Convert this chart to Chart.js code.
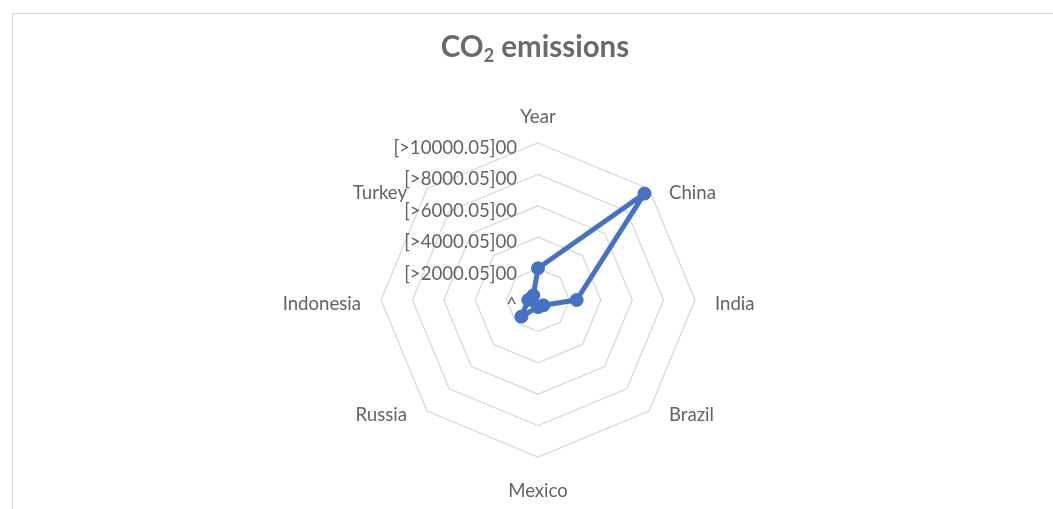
<!DOCTYPE html>
<html><head><meta charset="utf-8">
<script src="https://cdn.jsdelivr.net/npm/chart.js@4"></script>
<style>html,body{margin:0;padding:0;background:#fff}#wrap{width:1053px;height:509px;position:relative}</style>
</head><body><div id="wrap"><canvas id="c"></canvas></div>
<script>
const categories = ['Year', 'China', 'India', 'Brazil', 'Mexico', 'Russia', 'Indonesia', 'Turkey'];
const co2Values = [2019, 9590, 2460, 480, 450, 1490, 620, 420];
const tickValues = [0, 2000, 4000, 6000, 8000, 10000];
const tickLabels = ['^', '[>2000.05]00', '[>4000.05]00', '[>6000.05]00', '[>8000.05]00', '[>10000.05]00'];
const titleMain = 'CO';
const titleSub = '2';
const titleRest = ' emissions';

const textColor = '#636363';
const titleColor = '#6a6a6a';
const lineColor = '#4472C4';

const decor = {
  id: 'decor',
  beforeDraw(chart) {
    const ctx = chart.ctx;
    ctx.save();
    ctx.fillStyle = '#fff';
    ctx.fillRect(0, 0, chart.width, chart.height);
    ctx.strokeStyle = '#d9d9d9';
    ctx.lineWidth = 1;
    ctx.beginPath();
    ctx.moveTo(12.5, chart.height);
    ctx.lineTo(12.5, 13.5);
    ctx.lineTo(chart.width, 13.5);
    ctx.stroke();
    ctx.restore();
  },
  afterDraw(chart) {
    const ctx = chart.ctx;
    const s = chart.scales.r;
    ctx.save();
    ctx.fillStyle = textColor;
    ctx.font = '18.6px Lato';
    ctx.textBaseline = 'middle';
    ctx.textAlign = 'right';
    tickValues.forEach((v, i) => {
      const d = s.getDistanceFromCenterForValue(v);
      ctx.fillText(tickLabels[i], s.xCenter - 21, s.yCenter - d + 5);
    });
    categories.forEach((c, i) => {
      const p = s.getPointPosition(i, s.drawingArea);
      const dx = p.x - s.xCenter, dy = p.y - s.yCenter;
      let x = p.x, y = p.y + 4;
      if (dx > 1) { ctx.textAlign = 'left'; x += 20; }
      else if (dx < -1) { ctx.textAlign = 'right'; x -= 20; }
      else { ctx.textAlign = 'center'; y = dy < 0 ? p.y - 26 : p.y + 34; }
      ctx.fillText(c, x, y);
    });
    // title
    ctx.fillStyle = titleColor;
    ctx.font = 'bold 29.5px Lato';
    ctx.textAlign = 'left';
    ctx.textBaseline = 'alphabetic';
    const wMain = ctx.measureText(titleMain).width;
    const wRest = ctx.measureText(titleRest).width;
    ctx.font = 'bold 18px Lato';
    const wSub = ctx.measureText(titleSub).width;
    const total = wMain + wSub + wRest;
    let tx = s.xCenter - total / 2 - 3;
    const by = 57;
    ctx.font = 'bold 29.5px Lato';
    ctx.fillText(titleMain, tx, by);
    tx += wMain;
    ctx.font = 'bold 18px Lato';
    ctx.fillText(titleSub, tx, by + 5);
    tx += wSub;
    ctx.font = 'bold 29.5px Lato';
    ctx.fillText(titleRest, tx, by);
    ctx.restore();
  }
};

new Chart(document.getElementById('c'), {
  type: 'radar',
  data: {
    labels: categories,
    datasets: [{
      label: 'CO2 emissions',
      data: co2Values,
      borderColor: lineColor,
      backgroundColor: lineColor,
      borderWidth: 5,
      borderJoinStyle: 'round',
      borderCapStyle: 'round',
      pointRadius: 6.5,
      pointBorderWidth: 1,
      pointBackgroundColor: lineColor,
      pointBorderColor: lineColor,
      fill: false,
      tension: 0
    }]
  },
  options: {
    responsive: true,
    maintainAspectRatio: false,
    animation: false,
    layout: { padding: { top: 143, bottom: 52, left: 23, right: 0 } },
    plugins: { legend: { display: false }, title: { display: false }, tooltip: { enabled: false } },
    scales: {
      r: {
        min: 0, max: 10000,
        ticks: { stepSize: 2000, display: false },
        grid: { color: '#d9d9d9', lineWidth: 1.3, circular: false },
        angleLines: { display: false },
        pointLabels: { display: false }
      }
    }
  },
  plugins: [decor]
});
</script>
</body></html>
